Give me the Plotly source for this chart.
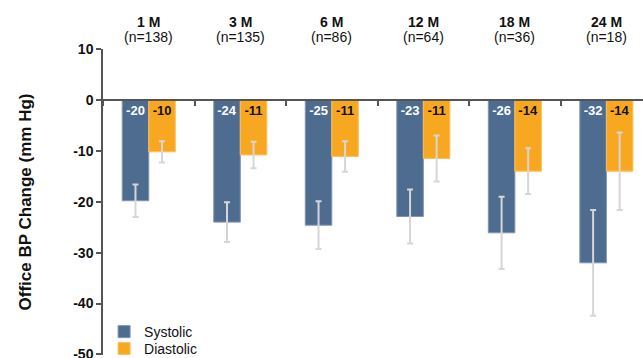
import plotly.graph_objects as go

categories = ["1 M", "3 M", "6 M", "12 M", "18 M", "24 M"]
n_labels = ["(n=138)", "(n=135)", "(n=86)", "(n=64)", "(n=36)", "(n=18)"]
systolic = [-19.8, -24.0, -24.6, -22.9, -26.1, -32.0]
diastolic = [-10.2, -10.8, -11.1, -11.5, -14.0, -14.0]
systolic_err = [3.2, 3.9, 4.7, 5.3, 7.1, 10.4]
diastolic_err = [2.1, 2.6, 3.0, 4.5, 4.5, 7.6]
systolic_text = ["-20", "-24", "-25", "-23", "-26", "-32"]
diastolic_text = ["-10", "-11", "-11", "-11", "-14", "-14"]
y_ticks = [10, 0, -10, -20, -30, -40, -50]
y_ticktext = ["10", "0", "-10", "-20", "-30", "-40", "-50"]

FONT = "Liberation Sans, Arial, sans-serif"
SYS_C = "#4e6b90"
DIA_C = "#f8a820"
ERR_C = "#d6d6d6"

fig = go.Figure()
fig.add_trace(go.Bar(
    name="Systolic", x=categories, y=systolic, legend="legend", showlegend=True,
    marker=dict(color=SYS_C, line=dict(color="#8194ad", width=1)),
    error_y=dict(type="data", array=systolic_err, color=ERR_C, thickness=2, width=3),
    text=systolic_text, textposition="inside", insidetextanchor="start",
    textfont=dict(color="white", size=13, family=FONT, weight="bold"),
    textangle=0, cliponaxis=False,
))
fig.add_trace(go.Bar(
    name="Diastolic", x=categories, y=diastolic, legend="legend2", showlegend=True,
    marker=dict(color=DIA_C, line=dict(color="#fbc060", width=1)),
    error_y=dict(type="data", array=diastolic_err, color=ERR_C, thickness=2, width=3),
    text=diastolic_text, textposition="inside", insidetextanchor="start",
    textfont=dict(color="#111111", size=13, family=FONT, weight="bold"),
    textangle=0, cliponaxis=False,
))

for c, n in zip(categories, n_labels):
    fig.add_annotation(x=c, y=1, xref="x", yref="paper", yanchor="middle",
                       yshift=27, showarrow=False, text=f"<b>{c}</b>",
                       font=dict(size=14, family=FONT, color="#111111"))
    fig.add_annotation(x=c, y=1, xref="x", yref="paper", yanchor="middle",
                       yshift=12, showarrow=False, text=n,
                       font=dict(size=14, family=FONT, color="#111111"))

leg_common = dict(xanchor="left", yanchor="middle", visible=True,
                  font=dict(size=14, family=FONT, color="#111111"),
                  bgcolor="rgba(0,0,0,0)", itemwidth=30)

fig.update_layout(
    width=643, height=358,
    margin=dict(l=103, r=0, t=49, b=3, autoexpand=False),
    plot_bgcolor="white", paper_bgcolor="white",
    showlegend=True,
    barmode="group", bargap=0.42, bargroupgap=0,
    uniformtext=dict(minsize=8, mode="show"),
    font=dict(family=FONT, color="#111111"),
    legend=dict(x=0.002, y=0.075, **leg_common),
    legend2=dict(x=0.002, y=0.02, **leg_common),
    xaxis=dict(range=[-0.5, 5.4], showticklabels=False, ticks="outside",
               tickson="boundaries", ticklen=5, tickcolor="#555555",
               tickwidth=1.5, showline=True, linecolor="#555555", linewidth=1.5,
               anchor="free", position=50.1/60.1, showgrid=False, zeroline=False,
               automargin=False),
    yaxis=dict(range=[-50.1, 10], tickvals=y_ticks, ticktext=y_ticktext,
               ticks="outside", ticklen=5, ticklabeloverflow="allow",
               tickcolor="#555555", tickwidth=1.5, showline=True,
               linecolor="#555555", linewidth=1.5, showgrid=False,
               zeroline=False, automargin=False,
               tickfont=dict(size=14, family=FONT, color="#111111", weight="bold"),
               title=dict(text="<b>Office BP Change (mm Hg)</b>", standoff=37,
                          font=dict(size=17, family=FONT, color="#111111"))),
)

fig.write_html("out.html")
